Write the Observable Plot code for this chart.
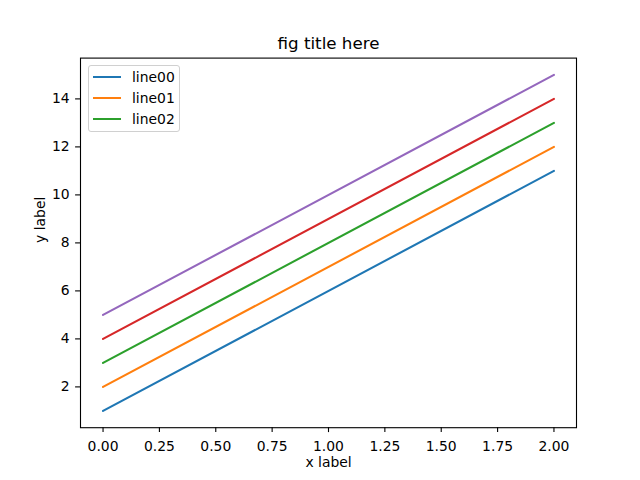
<!DOCTYPE html>
<html>
<head>
<meta charset="utf-8">
<script src="https://cdn.jsdelivr.net/npm/d3@7"></script>
<script src="https://cdn.jsdelivr.net/npm/@observablehq/plot@0.6"></script>
<style>
  body { margin: 0; background: #fff; }
  #wrap { position: relative; width: 640px; height: 480px; font-family: "DejaVu Sans", sans-serif; }
  #legend { position: absolute; left: 88px; top: 65px; width: 92px; height: 67px;
    border: 1px solid #d0d0d0; border-radius: 3px; background: rgba(255,255,255,0.8);
    box-sizing: border-box; font-size: 13.9px; }
  .row { position: absolute; left: 0; height: 20px; display: flex; align-items: center; }
  .sw { width: 28px; height: 2px; margin-left: 4px; margin-right: 11px; }
</style>
</head>
<body>
<div id="wrap"></div>
<script>
const xs = [0, 2];
const seriesNames = ["line00", "line01", "line02", "line03", "line04"];
const seriesStart = [1, 2, 3, 4, 5];
const seriesEnd = [11, 12, 13, 14, 15];
const colors = ["#1f77b4", "#ff7f0e", "#2ca02c", "#d62728", "#9467bd"];
const legendNames = ["line00", "line01", "line02"];
const xTicks = [0, 0.25, 0.5, 0.75, 1.0, 1.25, 1.5, 1.75, 2.0];
const yTicks = [2, 4, 6, 8, 10, 12, 14];

const data = [];
seriesNames.forEach((name, i) => {
  data.push({series: name, x: xs[0], y: seriesStart[i]});
  data.push({series: name, x: xs[1], y: seriesEnd[i]});
});

const fs = 13.9;
const chart = Plot.plot({
  width: 640,
  height: 480,
  marginLeft: 80,
  marginRight: 64,
  marginTop: 57.6,
  marginBottom: 52.8,
  style: {fontFamily: "DejaVu Sans, sans-serif", fontSize: fs + "px", color: "black", background: "white"},
  x: {domain: [-0.1, 2.1], label: null},
  y: {domain: [0.3, 15.7], label: null},
  color: {domain: seriesNames, range: colors},
  marks: [
    Plot.line(data, {x: "x", y: "y", z: "series", stroke: "series", strokeWidth: 2.08}),
    Plot.frame({stroke: "black", strokeWidth: 1.1}),
    Plot.axisX({ticks: xTicks, tickFormat: d3.format(".2f"), tickSize: 4.9, tickPadding: 9, fontSize: fs, label: null, strokeWidth: 1.1}),
    Plot.axisY({ticks: yTicks, tickFormat: d => String(d), tickSize: 4.9, tickPadding: 6, fontSize: fs, label: null, strokeWidth: 1.1}),
    Plot.text(["fig title here"], {frameAnchor: "top", lineAnchor: "middle", dy: -14.6, fontSize: 16.7, fill: "black"}),
    Plot.text(["x label"], {frameAnchor: "bottom", lineAnchor: "middle", dy: 35, fontSize: fs, fill: "black"}),
    Plot.text(["y label"], {frameAnchor: "left", dx: -40, rotate: -90, fontSize: fs, fill: "black"})
  ]
});
const wrap = document.getElementById("wrap");
wrap.appendChild(chart);

const legend = document.createElement("div");
legend.id = "legend";
legendNames.forEach((name, i) => {
  const row = document.createElement("div");
  row.className = "row";
  row.style.top = (1 + i * 21) + "px";
  const sw = document.createElement("div");
  sw.className = "sw";
  sw.style.background = colors[seriesNames.indexOf(name)];
  const lab = document.createElement("span");
  lab.textContent = name;
  row.appendChild(sw);
  row.appendChild(lab);
  legend.appendChild(row);
});
wrap.appendChild(legend);
</script>
</body>
</html>
